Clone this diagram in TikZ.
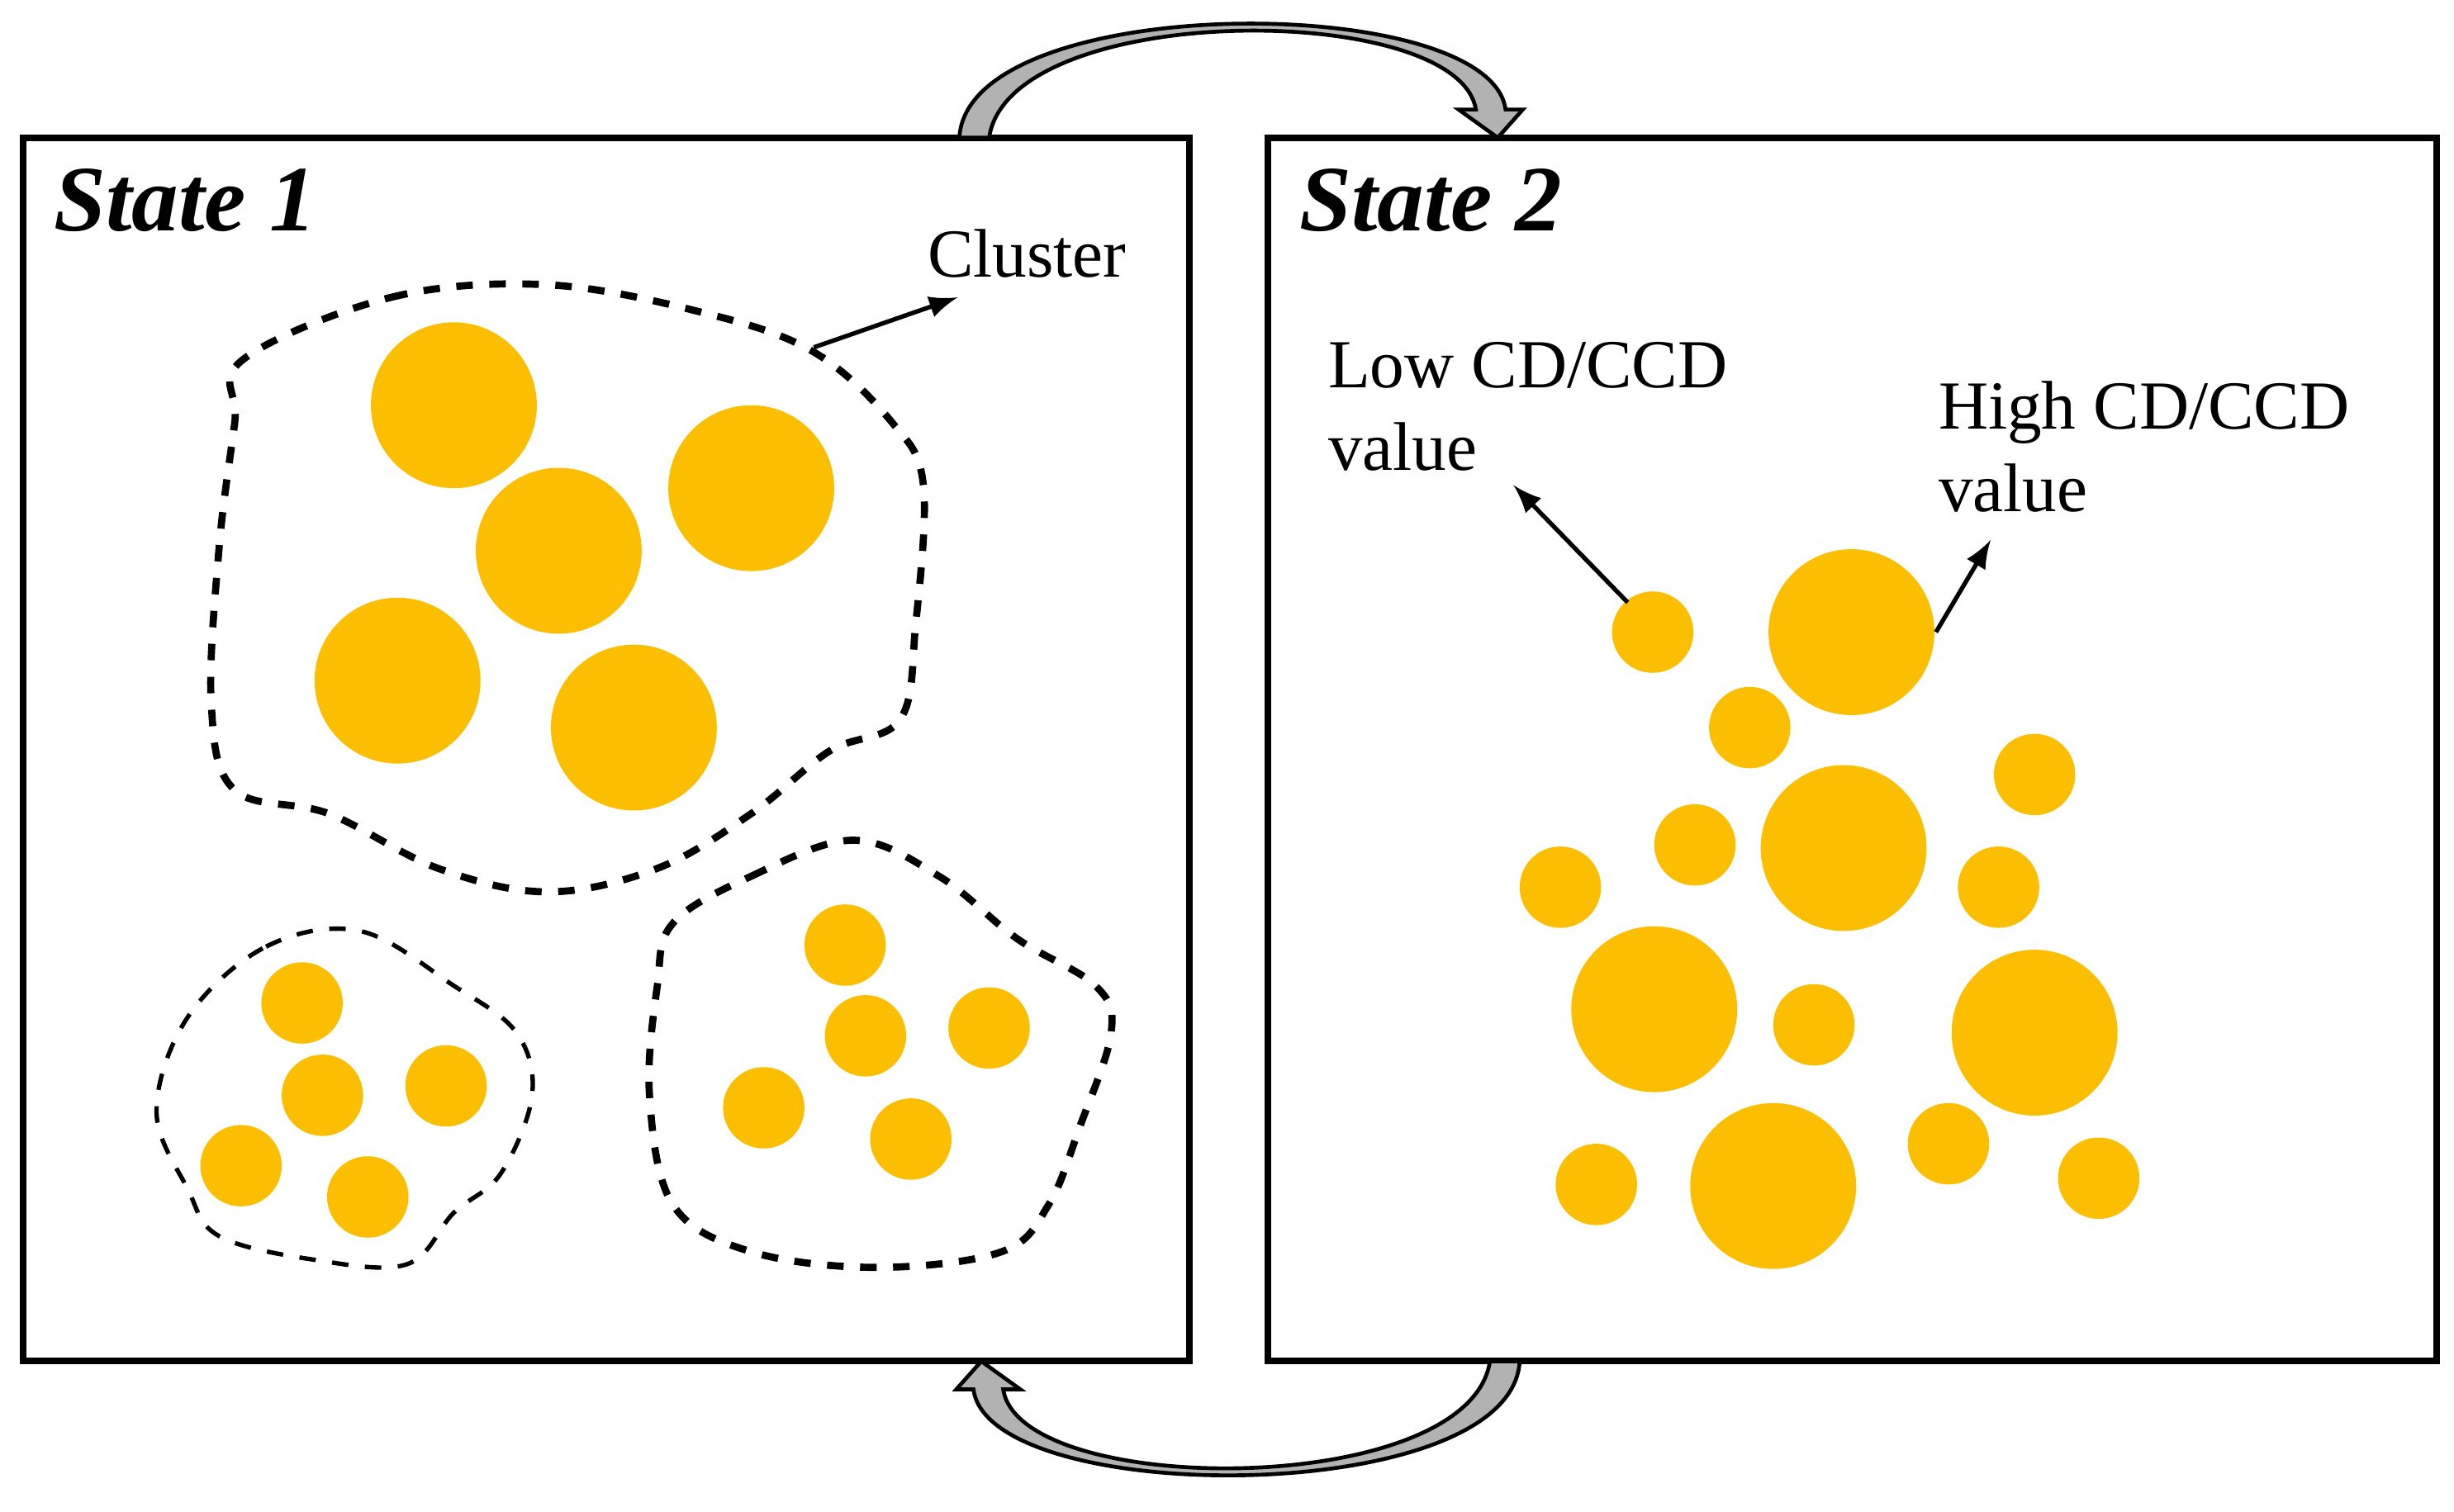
\documentclass[tikz,border=0pt]{standalone}
\usepackage{fontspec}
\setmainfont{Liberation Serif}
\begin{document}
\begin{tikzpicture}[x=0.01cm,y=-0.01cm,
  box/.style={draw,line width=1.2pt},
  blob/.style={draw,dashed,line width=1.3pt},
  ttl/.style={font=\fontsize{17}{20}\selectfont\bfseries\itshape,anchor=west},
  lbl/.style={font=\fontsize{12.5}{15}\selectfont,anchor=north west,align=left,inner sep=0},
  arr/.style={fill=gray!60,draw=black,line width=0.7pt}]
\definecolor{gold}{RGB}{252,190,0}
\tikzset{dot/.style={fill=gold,draw=none}}
\useasboundingbox (0,0) rectangle (1568,966);
\draw[box] (15,88) rectangle (760,870);
\draw[box] (810,88) rectangle (1557,870);
\node[ttl] (t1) at (22,128) {State 1};
\node[ttl] (t2) at (818,128) {State 2};
% big cluster
\foreach \x/\y in {290/259,357/352,480/312,254/435,405/465} \fill[dot] (\x,\y) circle (53);
\draw[blob] plot[smooth cycle,tension=0.6] coordinates {(155,230)(250,190)(350,182)(450,200)(520,225)(570,270)(590,310)(585,400)(575,460)(530,480)(480,520)(420,555)(350,570)(280,555)(210,520)(150,505)(135,450)(140,350)(150,270)};
\foreach \x/\y in {193/641,206/700,285/694,154/745,235/765} \fill[dot] (\x,\y) circle (26);
\draw[dashed,line width=0.8pt] plot[smooth cycle,tension=0.6] coordinates {(120,650)(170,605)(230,595)(290,630)(330,660)(340,700)(320,750)(290,775)(260,808)(200,805)(140,790)(120,760)(100,710)};
\foreach \x/\y in {540/604,553/662,632/657,488/708,582/728} \fill[dot] (\x,\y) circle (26);
\draw[blob] plot[smooth cycle,tension=0.6] coordinates {(430,590)(480,560)(545,537)(600,560)(650,600)(700,630)(710,660)(690,720)(670,770)(640,800)(560,810)(480,800)(430,770)(415,700)(420,630)};
\coordinate (c0) at (520,222);
\node[lbl] (cl) at (592,146) {Cluster};
\draw[-latex,line width=0.8pt] (c0) -- (612,190);
% state 2
\foreach \x/\y in {1056/404,1118/465,1300/495,1083/540,997/567,1277/567,1159/655,1245/731,1020/757,1341/753} \fill[dot] (\x,\y) circle (26);
\foreach \x/\y in {1183/404,1178/542,1057/645,1300/660,1133/758} \fill[dot] (\x,\y) circle (53);
\node[lbl] (lo) at (848,218) {Low CD/CCD\\value};
\node[lbl] (hi) at (1238,243) {High CD/CCD\\value};
\coordinate (l0) at (1040,385); \coordinate (h0) at (1237,404);
\draw[-latex,line width=0.8pt] (l0) -- (967,310);
\draw[-latex,line width=0.8pt] (h0) -- (1272,345);
% curved arrows
\def\bigarrow{(613,88) .. controls (618,-6) and (952,-6) .. (962,70) -- (973,70) -- (957,88) -- (932,70) -- (943,70) .. controls (932,0) and (645,0) .. (632,88) -- cycle}
\draw[arr] \bigarrow;
\begin{scope}[rotate around={180:(792,479)}]
\draw[arr] \bigarrow;
\end{scope}
\end{tikzpicture}
\end{document}
